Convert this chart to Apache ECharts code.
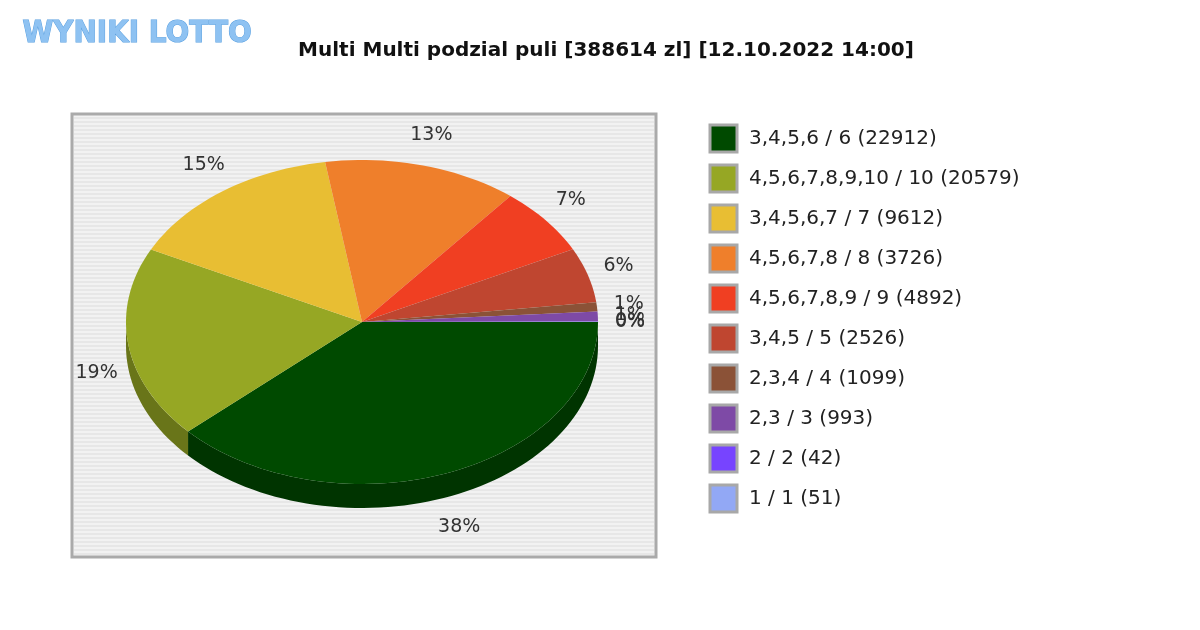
<!DOCTYPE html>
<html><head><meta charset="utf-8">
<script src="https://cdn.jsdelivr.net/npm/echarts@6/dist/echarts.min.js"></script>
<style>html,body{margin:0;padding:0;background:#fff}#c{width:1200px;height:630px}</style>
</head><body><div id="c"></div>
<script>
const categories = ['3,4,5,6 / 6 (22912)','4,5,6,7,8,9,10 / 10 (20579)','3,4,5,6,7 / 7 (9612)','4,5,6,7,8 / 8 (3726)','4,5,6,7,8,9 / 9 (4892)','3,4,5 / 5 (2526)','2,3,4 / 4 (1099)','2,3 / 3 (993)','2 / 2 (42)','1 / 1 (51)'];
const shares = [38.4, 19.3, 15.2, 13.4, 6.8, 5.5, 0.9, 1.0, 0.02, 0.03];
const pctLabels = ['38%','19%','15%','13%','7%','6%','1%','1%','0%','0%'];
const colors = ['#004a00','#96a724','#e8be33','#ef7f2b','#f03f22','#bf4630','#8b5237','#7e4aa6','#7744ff','#92a8f5'];

const cx = 362, cy = 322, rx = 236, ry = 162, depth = 24;
const total = shares.reduce((a,b)=>a+b,0);
const starts = []; let acc = 0;
shares.forEach(v => { starts.push(acc / total * 360); acc += v; });

function pt(a, dy, ex) { const r = a*Math.PI/180; return [cx + (rx+(ex||0))*Math.cos(r), cy + (ry+(ex||0))*Math.sin(r) + (dy||0)]; }
function darken(hex, f) {
  const n = parseInt(hex.slice(1),16);
  const r = Math.round(((n>>16)&255)*f), g = Math.round(((n>>8)&255)*f), b = Math.round((n&255)*f);
  return 'rgb('+r+','+g+','+b+')';
}

function renderItem(params, api) {
  const i = params.dataIndex;
  const a0 = starts[i], a1 = starts[i] + shares[i]/total*360;
  const col = colors[i];
  const children = [];
  const top = [[cx,cy]];
  const n = Math.max(2, Math.ceil((a1-a0)/2));
  for (let k=0;k<=n;k++) top.push(pt(a0+(a1-a0)*k/n));
  const s0 = Math.max(a0,0), s1 = Math.min(a1,180);
  if (s1 > s0) {
    const up = [], dn = [];
    const m = Math.max(2, Math.ceil((s1-s0)/2));
    for (let k=0;k<=m;k++){ const a=s0+(s1-s0)*k/m; up.push(pt(a)); dn.unshift(pt(a,depth)); }
    children.push({type:'polygon', z2:0, shape:{points:up.concat(dn)}, style:{fill:darken(col,0.7)}});
  }
  children.push({type:'polygon', z2:10, shape:{points:top}, style:{fill:col}});
  const mid = (a0+a1)/2;
  const lp = pt(mid, Math.sin(mid*Math.PI/180)>0 ? depth : 0, 32);
  children.push({type:'text', z2:20, style:{text:pctLabels[i], x:lp[0], y:lp[1], align:'center', verticalAlign:'middle', font:'19px "DejaVu Sans"', fill:'#333'}});
  return {type:'group', children};
}

const graphics = [];
graphics.push({type:'rect', shape:{x:72,y:114,width:584,height:443}, style:{fill:'#f2f2f2', stroke:'#aaaaaa', lineWidth:3}, z:-10});
for (let y=118; y<555; y+=4) graphics.push({type:'line', shape:{x1:74,y1:y,x2:654,y2:y}, style:{stroke:'#dcdcdc', lineWidth:1}, z:-9});
graphics.push({type:'text', left:22, top:18, style:{text:'WYNIKI LOTTO', font:'bold 31px "DejaVu Sans Condensed"', fill:'#8ec2f2', stroke:'#5aa0e0', lineWidth:1}});
categories.forEach((c,i)=>{
  const y = 125 + i*40;
  graphics.push({type:'rect', shape:{x:710,y:y,width:27,height:27}, style:{fill:colors[i], stroke:'#a8a8a8', lineWidth:3}});
  graphics.push({type:'text', x:749, y:y+14, style:{text:c, font:'20px "DejaVu Sans"', fill:'#222', verticalAlign:'middle'}});
});

const chart = echarts.init(document.getElementById('c'));
chart.setOption({
  animation:false,
  title:{text:'Multi Multi podzial puli [388614 zl] [12.10.2022 14:00]', left:601, top:36, textAlign:'center', textStyle:{fontFamily:'DejaVu Sans', fontWeight:'bold', fontSize:20, color:'#111'}},
  graphic: graphics,
  series:[{type:'custom', coordinateSystem:'none', data:shares, renderItem}]
});
</script></body></html>
